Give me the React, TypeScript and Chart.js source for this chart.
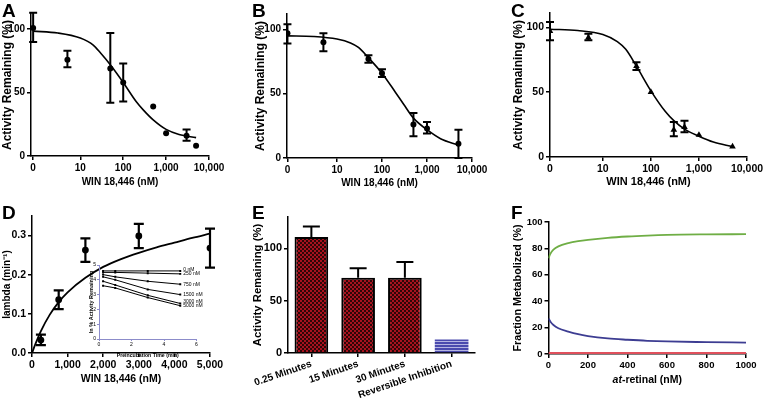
import React, { useEffect, useRef } from 'react';
import { Chart, registerables } from 'chart.js';

Chart.register(...registerables);

const W = 768;
const H = 402;
const FONT = 'Arial, "Liberation Sans", Helvetica, sans-serif';
Chart.defaults.font.family = FONT;
Chart.defaults.color = '#000';

// ---------------- data ----------------
const DOSE_TICKS = [0, 10, 100, 1000, 10000];
const DOSE_TICK_LABELS = ['0', '10', '100', '1,000', '10,000'];
const ACT_TICKS = [0, 50, 100];
const FIT_DOSE = [0, 3, 10, 20, 30, 50, 100, 200, 300, 500, 1000, 2000, 5000];

const A_DOSE = [0, 5, 50, 100, 500, 1000, 3000, 5000];
const A_ACT = [101, 76, 69, 58, 39, 18, 16, 8];
const A_LO = [90, 70, 42, 43, null, null, 12, null];
const A_HI = [113, 83, 97, 73, null, null, 21, null];
const A_FIT = [98.5, 97, 93, 87.5, 81, 72, 58, 43, 36, 28.5, 21, 17, 14.5];

const B_DOSE = [0, 5, 50, 100, 500, 1000, 5000];
const B_ACT = [97, 90, 77, 66, 26, 23, 11];
const B_LO = [89, 83, 74, 63, 17, 19, 0];
const B_HI = [104, 97, 80, 69, 35, 28, 22];
const B_FIT = [95, 94.5, 92.5, 89.5, 86, 78, 66, 51, 42, 31, 22, 15, 10];

const C_DOSE = [0, 5, 50, 100, 300, 500, 1000, 5000];
const C_ACT = [97, 92, 70, 50, 21, 23, 17, 8];
const C_LO = [90, 90, 67, null, 16, 19, null, null];
const C_HI = [104, 95, 73, null, 27, 28, null, null];
const C_FIT = [98.5, 97.5, 94.5, 89, 83, 70, 51, 35, 28, 21.5, 16, 11.5, 8];

const D_DOSE = [250, 750, 1500, 3000, 5000];
const D_RATE = [0.033, 0.136, 0.263, 0.299, 0.268];
const D_LO = [0.02, 0.112, 0.233, 0.268, 0.218];
const D_HI = [0.047, 0.16, 0.293, 0.33, 0.318];
const D_FIT_DOSE = [0, 100, 250, 500, 750, 1000, 1500, 2000, 2500, 3000, 3500, 4000, 4500, 5000];
const D_FIT = [0, 0.024, 0.056, 0.098, 0.13, 0.155, 0.192, 0.22, 0.24, 0.256, 0.27, 0.282, 0.294, 0.305];
const D_X_TICKS = [0, 1000, 2000, 3000, 4000, 5000];
const D_Y_TICKS = [0, 0.1, 0.2, 0.3];

const INSET_TIME = [0.25, 1, 3, 5];
const INSET_CONC = ['0 nM', '250 nM', '750 nM', '1500 nM', '3000 nM', '5000 nM'];
const INSET_0 = [4.6, 4.6, 4.6, 4.6];
const INSET_250 = [4.5, 4.5, 4.45, 4.4];
const INSET_750 = [4.35, 4.2, 3.9, 3.7];
const INSET_1500 = [4.2, 4.0, 3.35, 3.0];
const INSET_3000 = [3.9, 3.65, 2.95, 2.4];
const INSET_5000 = [3.6, 3.45, 2.8, 2.25];
const INSET_SERIES = [INSET_0, INSET_250, INSET_750, INSET_1500, INSET_3000, INSET_5000];
const INSET_X_TICKS = [0, 2, 4, 6];
const INSET_Y_TICKS = [0, 1, 2, 3, 4, 5];

const E_LABELS = ['0.25 Minutes', '15 Minutes', '30 Minutes', 'Reversible Inhibition'];
const E_VALUES = [111, 72, 72, 13];
const E_HI = [121, 81, 87, null];

const F_X = [0, 10, 25, 50, 100, 150, 200, 300, 400, 500, 600, 800, 1000];
const F_GREEN = [72.5, 76, 79, 81.5, 84, 85.5, 86.5, 88, 89, 89.7, 90.2, 90.6, 90.8];
const F_BLUE = [27, 24.5, 22, 19.5, 17, 15, 13.6, 11.8, 10.8, 10, 9.5, 9, 8.6];
const F_RED = [0.7, 0.7, 0.7, 0.7, 0.7, 0.7, 0.7, 0.7, 0.7, 0.7, 0.7, 0.7, 0.7];
const F_X_TICKS = [0, 200, 400, 600, 800, 1000];
const F_Y_TICKS = [0, 20, 40, 60, 80, 100];

// ---------------- layout frames (figure pixels) ----------------
type Frame = {
  left: number; right: number; top: number; bottom: number;
  yTitleX: number; yTitleSize: number;
  xTitleY?: number; xTitleSize?: number; xHeight?: number;
};

const FRAME_A: Frame = { left: 31, right: 209, top: 14, bottom: 156, yTitleX: 7.5, yTitleSize: 12, xTitleY: 182, xTitleSize: 10 };
const FRAME_B: Frame = { left: 287, right: 472, top: 14, bottom: 158, yTitleX: 261, yTitleSize: 12, xTitleY: 183, xTitleSize: 10 };
const FRAME_C: Frame = { left: 550, right: 747, top: 13, bottom: 157, yTitleX: 518.5, yTitleSize: 12, xTitleY: 182, xTitleSize: 11 };
const FRAME_D: Frame = { left: 32, right: 210, top: 216, bottom: 353, yTitleX: 7.5, yTitleSize: 10, xTitleY: 379, xTitleSize: 10.5 };
const FRAME_IN: Frame = { left: 99, right: 196.5, top: 265, bottom: 339, yTitleX: 91.5, yTitleSize: 5.5, xTitleY: 355.5, xTitleSize: 5.2 };
const FRAME_E: Frame = { left: 288, right: 475, top: 217, bottom: 353, yTitleX: 257.5, yTitleSize: 11.3, xHeight: 45 };
const FRAME_F: Frame = { left: 548.5, right: 746, top: 222, bottom: 354, yTitleX: 518.5, yTitleSize: 10.8, xTitleY: 380, xTitleSize: 10.5 };

function layoutFor(f: Frame) {
  const lhY = f.yTitleSize * 1.2;
  const scaleLeft = f.yTitleX - lhY / 2;
  let xh: number;
  if (f.xTitleY != null) {
    const lhX = (f.xTitleSize || 10) * 1.2;
    xh = f.xTitleY + lhX / 2 - f.bottom;
  } else {
    xh = f.xHeight || 40;
  }
  return {
    padding: { left: scaleLeft, top: f.top, right: W - f.right, bottom: H - f.bottom - xh },
    yW: f.left - scaleLeft,
    xH: xh,
  };
}

const logPos = (d: number) => (d === 0 ? -0.1 : Math.log10(d));

function tickFont(size: number, weight: string = 'bold') {
  return { family: FONT, size, weight };
}
function axisStyle(color = '#000', tickLen = 4, lw = 1.5) {
  return {
    grid: { display: true, drawOnChartArea: false, drawTicks: true, tickLength: tickLen, color, lineWidth: lw, offset: false },
    border: { display: true, color, width: lw },
  };
}
function tickOpts(size: number, cb: any, weight = 'bold', pad = 2) {
  return { color: '#000', font: tickFont(size, weight), padding: pad, autoSkip: false, maxRotation: 0, minRotation: 0, callback: cb };
}
function fixX(h: number) {
  return (s: any) => { s.height = h; s.paddingLeft = 0; s.paddingRight = 0; s.paddingTop = 0; s.paddingBottom = 0; };
}
function fixY(w: number) {
  return (s: any) => { s.width = w; s.paddingLeft = 0; s.paddingRight = 0; s.paddingTop = 0; s.paddingBottom = 0; };
}
function setTicks(values: number[]) {
  return (s: any) => { s.ticks = values.map((value) => ({ value })); };
}
function axisTitle(text: string, size: number, weight = 'bold') {
  return { display: true, text, color: '#000', font: { family: FONT, size, weight, lineHeight: 1.2 }, padding: 0 };
}

// ---------------- plugins ----------------
const errorBarPlugin = {
  id: 'errorBars',
  afterDatasetsDraw(chart: any) {
    const ctx = chart.ctx;
    chart.data.datasets.forEach((ds: any, i: number) => {
      if (!ds.errHi) return;
      const meta = chart.getDatasetMeta(i);
      const ys = chart.scales[meta.yAxisID];
      ctx.save();
      ctx.strokeStyle = '#000';
      ctx.lineWidth = ds.errWidth || 2;
      meta.data.forEach((el: any, j: number) => {
        const hi = ds.errHi[j];
        if (hi == null) return;
        const lo = ds.errLo ? ds.errLo[j] : null;
        const x = el.x;
        const yHi = ys.getPixelForValue(hi);
        const yLo = lo == null ? el.y : ys.getPixelForValue(lo);
        const c = ds.capW / 2;
        ctx.beginPath();
        ctx.moveTo(x, yLo);
        ctx.lineTo(x, yHi);
        ctx.moveTo(x - c, yHi);
        ctx.lineTo(x + c, yHi);
        if (lo != null) {
          ctx.moveTo(x - c, yLo);
          ctx.lineTo(x + c, yLo);
        }
        ctx.stroke();
      });
      ctx.restore();
    });
  },
};

const insetLabelPlugin = {
  id: 'insetLabels',
  afterDatasetsDraw(chart: any) {
    const ctx = chart.ctx;
    const items = chart.data.datasets.map((ds: any, i: number) => {
      const meta = chart.getDatasetMeta(i);
      const last = meta.data[meta.data.length - 1];
      return { text: ds.label, x: last.x + 3, y: last.y };
    });
    for (let i = items.length - 2; i >= 0; i--) {
      items[i].y = Math.min(items[i].y, items[i + 1].y - 4.5);
    }
    ctx.save();
    ctx.fillStyle = '#000';
    ctx.font = `5px ${FONT}`;
    ctx.textAlign = 'left';
    ctx.textBaseline = 'middle';
    items.forEach((it: any) => ctx.fillText(it.text, it.x, it.y));
    ctx.restore();
  },
};

function mixedTitlePlugin(parts: { text: string; italic: boolean }[], y: number, size: number) {
  return {
    id: 'mixedTitle',
    afterDraw(chart: any) {
      const ctx = chart.ctx;
      const ca = chart.chartArea;
      ctx.save();
      const fonts = parts.map((p) => `${p.italic ? 'italic ' : ''}bold ${size}px ${FONT}`);
      let total = 0;
      const widths = parts.map((p, i) => {
        ctx.font = fonts[i];
        const w = ctx.measureText(p.text).width;
        total += w;
        return w;
      });
      let x = (ca.left + ca.right) / 2 - total / 2;
      ctx.fillStyle = '#000';
      ctx.textBaseline = 'middle';
      ctx.textAlign = 'left';
      parts.forEach((p, i) => {
        ctx.font = fonts[i];
        ctx.fillText(p.text, x, y);
        x += widths[i];
      });
      ctx.restore();
    },
  };
}

// ---------------- patterns ----------------
function checkerPattern(ctx: CanvasRenderingContext2D) {
  const c = document.createElement('canvas');
  c.width = 4; c.height = 4;
  const g = c.getContext('2d')!;
  g.fillStyle = '#2e0608'; g.fillRect(0, 0, 4, 4);
  g.fillStyle = '#a8121e'; g.fillRect(0, 0, 2, 2); g.fillRect(2, 2, 2, 2);
  return ctx.createPattern(c, 'repeat');
}
function stripePattern(ctx: CanvasRenderingContext2D) {
  const c = document.createElement('canvas');
  c.width = 4; c.height = 3;
  const g = c.getContext('2d')!;
  g.fillStyle = '#4a4aae'; g.fillRect(0, 0, 4, 3);
  g.fillStyle = '#b4b4e2'; g.fillRect(0, 2, 4, 1);
  return ctx.createPattern(c, 'repeat');
}

// ---------------- chart configs ----------------
function doseConfig(f: Frame, dose: number[], act: number[], lo: any[], hi: any[], fit: number[], o: { xMin: number; yMax: number; tick: number; pointStyle: string; radius: number }) {
  const L = layoutFor(f);
  return {
    type: 'scatter',
    data: {
      datasets: [
        {
          data: FIT_DOSE.map((d, i) => ({ x: logPos(d), y: fit[i] })),
          showLine: true, borderColor: '#000', borderWidth: 1.6, pointRadius: 0,
          cubicInterpolationMode: 'monotone', fill: false,
        },
        {
          data: dose.map((d, i) => ({ x: logPos(d), y: act[i] })),
          pointStyle: o.pointStyle, pointRadius: o.radius, backgroundColor: '#000', borderColor: '#000', borderWidth: 0,
          errLo: lo, errHi: hi, capW: 8,
        },
      ],
    },
    options: {
      animation: false, responsive: false, events: [],
      layout: { padding: L.padding },
      plugins: { legend: { display: false }, tooltip: { enabled: false } },
      scales: {
        x: {
          type: 'linear', min: o.xMin, max: 4, ...axisStyle(),
          afterBuildTicks: setTicks(DOSE_TICKS.map(logPos)),
          ticks: tickOpts(o.tick, (_v: any, i: number) => DOSE_TICK_LABELS[i]),
          afterFit: fixX(L.xH),
          title: axisTitle('WIN 18,446 (nM)', f.xTitleSize || 10),
        },
        y: {
          type: 'linear', min: 0, max: o.yMax, ...axisStyle(),
          afterBuildTicks: setTicks(ACT_TICKS),
          ticks: tickOpts(o.tick, (v: any) => String(v)),
          afterFit: fixY(L.yW),
          title: axisTitle('Activity Remaining (%)', f.yTitleSize),
        },
      },
    },
    plugins: [errorBarPlugin],
  };
}

function dConfig() {
  const L = layoutFor(FRAME_D);
  return {
    type: 'scatter',
    data: {
      datasets: [
        {
          data: D_FIT_DOSE.map((d, i) => ({ x: d, y: D_FIT[i] })),
          showLine: true, borderColor: '#000', borderWidth: 1.8, pointRadius: 0, cubicInterpolationMode: 'monotone',
        },
        {
          data: D_DOSE.map((d, i) => ({ x: d, y: D_RATE[i] })),
          pointRadius: 3.4, backgroundColor: '#000', borderColor: '#000', borderWidth: 0,
          errLo: D_LO, errHi: D_HI, capW: 10, errWidth: 2.2,
        },
      ],
    },
    options: {
      animation: false, responsive: false, events: [],
      layout: { padding: L.padding },
      plugins: { legend: { display: false }, tooltip: { enabled: false } },
      scales: {
        x: {
          type: 'linear', min: 0, max: 5000, ...axisStyle(),
          afterBuildTicks: setTicks(D_X_TICKS),
          ticks: tickOpts(10.5, (v: any) => Number(v).toLocaleString('en-US')),
          afterFit: fixX(L.xH),
          title: axisTitle('WIN 18,446 (nM)', FRAME_D.xTitleSize || 10),
        },
        y: {
          type: 'linear', min: 0, max: 0.35, ...axisStyle(),
          afterBuildTicks: setTicks(D_Y_TICKS),
          ticks: tickOpts(10.5, (v: any) => Number(v).toFixed(1)),
          afterFit: fixY(L.yW),
          title: axisTitle('lambda (min\u207B\u00B9)', FRAME_D.yTitleSize),
        },
      },
    },
    plugins: [errorBarPlugin],
  };
}

function insetConfig() {
  const L = layoutFor(FRAME_IN);
  const lav = '#8c8cca';
  return {
    type: 'scatter',
    data: {
      datasets: INSET_SERIES.map((s, k) => ({
        label: INSET_CONC[k],
        data: INSET_TIME.map((t, i) => ({ x: t, y: s[i] })),
        showLine: true, borderColor: '#000', borderWidth: 1, pointStyle: 'rect', pointRadius: 1.4,
        backgroundColor: '#000', pointBorderWidth: 0,
      })),
    },
    options: {
      animation: false, responsive: false, events: [],
      layout: { padding: L.padding },
      plugins: { legend: { display: false }, tooltip: { enabled: false } },
      scales: {
        x: {
          type: 'linear', min: 0, max: 6, ...axisStyle(lav, 2, 1),
          afterBuildTicks: setTicks(INSET_X_TICKS),
          ticks: tickOpts(5, (v: any) => String(v), 'normal', 1),
          afterFit: fixX(L.xH),
          title: axisTitle('Preincubation Time (min)', FRAME_IN.xTitleSize || 5),
        },
        y: {
          type: 'linear', min: 0, max: 5, ...axisStyle(lav, 2, 1),
          afterBuildTicks: setTicks(INSET_Y_TICKS),
          ticks: tickOpts(5, (v: any) => String(v), 'normal', 1),
          afterFit: fixY(L.yW),
          title: axisTitle('ln % Activity Remaining', FRAME_IN.yTitleSize),
        },
      },
    },
    plugins: [insetLabelPlugin],
  };
}

function eConfig(ctx: CanvasRenderingContext2D) {
  const L = layoutFor(FRAME_E);
  const chk = checkerPattern(ctx);
  const stp = stripePattern(ctx);
  return {
    type: 'bar',
    data: {
      labels: E_LABELS,
      datasets: [
        {
          data: E_VALUES,
          backgroundColor: [chk, chk, chk, stp],
          borderColor: '#000',
          borderWidth: [2, 2, 2, 0],
          barPercentage: 0.72,
          categoryPercentage: 1,
          errHi: E_HI, capW: 17,
        },
      ],
    },
    options: {
      animation: false, responsive: false, events: [],
      layout: { padding: L.padding },
      plugins: { legend: { display: false }, tooltip: { enabled: false } },
      scales: {
        x: {
          type: 'category', ...axisStyle(),
          ticks: { ...tickOpts(10, (_v: any, i: number) => E_LABELS[i], 'bold', 1), minRotation: 19, maxRotation: 19 },
          afterFit: fixX(L.xH),
        },
        y: {
          type: 'linear', min: 0, max: 130, ...axisStyle(),
          afterBuildTicks: setTicks(ACT_TICKS),
          ticks: tickOpts(11, (v: any) => String(v)),
          afterFit: fixY(L.yW),
          title: axisTitle('Activity Remaining (%)', FRAME_E.yTitleSize),
        },
      },
    },
    plugins: [errorBarPlugin],
  };
}

function fConfig() {
  const L = layoutFor(FRAME_F);
  const line = (vals: number[], color: string, w: number) => ({
    data: F_X.map((x, i) => ({ x, y: vals[i] })),
    showLine: true, borderColor: color, borderWidth: w, pointRadius: 0, cubicInterpolationMode: 'monotone',
  });
  return {
    type: 'scatter',
    data: {
      datasets: [line(F_GREEN, '#6fae45', 1.8), line(F_BLUE, '#3d3d92', 1.8), line(F_RED, '#e0505c', 2)],
    },
    options: {
      animation: false, responsive: false, events: [],
      layout: { padding: L.padding },
      plugins: { legend: { display: false }, tooltip: { enabled: false } },
      scales: {
        x: {
          type: 'linear', min: 0, max: 1000, ...axisStyle(),
          afterBuildTicks: setTicks(F_X_TICKS),
          ticks: tickOpts(9.5, (v: any) => String(v)),
          afterFit: fixX(L.xH),
        },
        y: {
          type: 'linear', min: 0, max: 100, ...axisStyle(),
          afterBuildTicks: setTicks(F_Y_TICKS),
          ticks: tickOpts(9.5, (v: any) => String(v)),
          afterFit: fixY(L.yW),
          title: axisTitle('Fraction Metabolized (%)', FRAME_F.yTitleSize),
        },
      },
    },
    plugins: [mixedTitlePlugin([{ text: 'at', italic: true }, { text: '-retinal (nM)', italic: false }], FRAME_F.xTitleY || 380, FRAME_F.xTitleSize || 10.5)],
  };
}

// ---------------- components ----------------
function ChartLayer({ make }: { make: (ctx: CanvasRenderingContext2D) => any }) {
  const ref = useRef<HTMLCanvasElement>(null);
  useEffect(() => {
    const canvas = ref.current!;
    const ctx = canvas.getContext('2d')!;
    const chart = new Chart(canvas, make(ctx));
    return () => chart.destroy();
  }, []);
  return (
    <canvas
      ref={ref}
      width={W}
      height={H}
      style={{ position: 'absolute', left: 0, top: 0, width: W, height: H }}
    />
  );
}

const LETTERS: [string, number, number][] = [
  ['A', 2, 1], ['B', 252, 1], ['C', 511, 1],
  ['D', 2, 203], ['E', 252, 203], ['F', 511, 203],
];

export default function App() {
  return (
    <div style={{ position: 'fixed', left: 0, top: 0, width: W, height: H, background: '#fff', overflow: 'hidden' }}>
      <ChartLayer make={() => doseConfig(FRAME_A, A_DOSE, A_ACT, A_LO, A_HI, A_FIT, { xMin: -0.15, yMax: 112, tick: 10, pointStyle: 'circle', radius: 3 })} />
      <ChartLayer make={() => doseConfig(FRAME_B, B_DOSE, B_ACT, B_LO, B_HI, B_FIT, { xMin: -0.11, yMax: 112, tick: 10, pointStyle: 'circle', radius: 3 })} />
      <ChartLayer make={() => doseConfig(FRAME_C, C_DOSE, C_ACT, C_LO, C_HI, C_FIT, { xMin: -0.1, yMax: 111, tick: 10.5, pointStyle: 'triangle', radius: 3.8 })} />
      <ChartLayer make={() => dConfig()} />
      <ChartLayer make={() => insetConfig()} />
      <ChartLayer make={(ctx) => eConfig(ctx)} />
      <ChartLayer make={() => fConfig()} />
      {LETTERS.map(([t, x, y]) => (
        <div
          key={t}
          style={{ position: 'absolute', left: x, top: y, font: `bold 19px ${FONT}`, lineHeight: 1, color: '#000' }}
        >
          {t}
        </div>
      ))}
    </div>
  );
}
